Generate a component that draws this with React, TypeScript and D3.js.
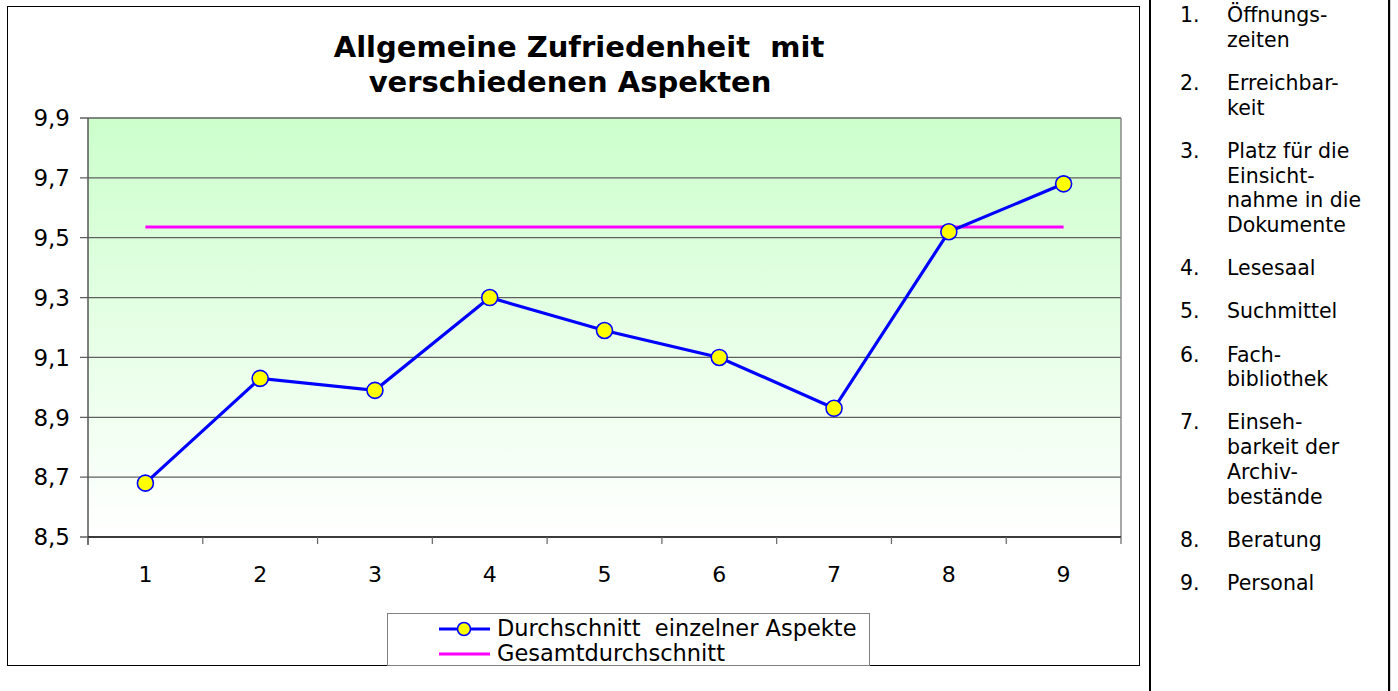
import React, {useEffect} from 'react';
import * as d3 from 'd3';

const categories = ['1', '2', '3', '4', '5', '6', '7', '8', '9'];
const aspectValues = [8.68, 9.03, 8.99, 9.30, 9.19, 9.10, 8.93, 9.52, 9.68];
const overallAverage = 9.536;
const yTicks = [8.5, 8.7, 8.9, 9.1, 9.3, 9.5, 9.7, 9.9];
const titleLines = ['Allgemeine Zufriedenheit  mit', 'verschiedenen Aspekten'];
const seriesNames = ['Durchschnitt  einzelner Aspekte', 'Gesamtdurchschnitt'];
const aspectLabels = [
  ['Öffnungs-', 'zeiten'],
  ['Erreichbar-', 'keit'],
  ['Platz für die', 'Einsicht-', 'nahme in die', 'Dokumente'],
  ['Lesesaal'],
  ['Suchmittel'],
  ['Fach-', 'bibliothek'],
  ['Einseh-', 'barkeit der', 'Archiv-', 'bestände'],
  ['Beratung'],
  ['Personal'],
];

const FONT = 'Verdana, "DejaVu Sans", sans-serif';

export default function App() {
  useEffect(() => {
    document.body.style.margin = '0';
    document.documentElement.style.overflow = 'hidden';
  }, []);

  const plot = {left: 88, right: 1121, top: 118, bottom: 537};

  const x = d3.scaleBand().domain(categories).range([plot.left, plot.right]).padding(0);
  const y = d3.scaleLinear().domain([8.5, 9.9]).range([plot.bottom, plot.top]);
  const cx = (c: string) => (x(c) as number) + x.bandwidth() / 2;

  const line = d3.line<number>()
    .x((d, i) => cx(categories[i]))
    .y(d => y(d));

  // x tick positions at the band boundaries
  const boundaries = categories.map(c => x(c) as number).concat([plot.right]);

  // right-hand list layout
  const lineH = 24.7, gap = 43.2;
  let base = 22;
  const listRows: {num: string, lines: string[], y: number}[] = [];
  aspectLabels.forEach((lines, i) => {
    listRows.push({num: (i + 1) + '.', lines: lines, y: base});
    base += (lines.length - 1) * lineH + gap;
  });

  return (
    <svg width={1398} height={691} style={{position: 'absolute', left: 0, top: 0, background: '#fff'}}
         fontFamily={FONT}>
      <defs>
        <linearGradient id="plotBg" x1="0" y1="0" x2="0" y2="1">
          <stop offset="0" stopColor="#ccffcc"/>
          <stop offset="1" stopColor="#ffffff"/>
        </linearGradient>
      </defs>

      {/* chart frame */}
      <rect x={7.5} y={6.5} width={1132} height={659} fill="#fff" stroke="#000" strokeWidth={1}/>

      {/* title */}
      <text x={579} y={57} textAnchor="middle" fontSize={29} fontWeight="bold" style={{whiteSpace: 'pre'}}>
        {titleLines[0]}
      </text>
      <text x={570} y={92} textAnchor="middle" fontSize={29} fontWeight="bold">
        {titleLines[1]}
      </text>

      {/* plot area */}
      <rect x={plot.left} y={plot.top} width={plot.right - plot.left} height={plot.bottom - plot.top}
            fill="url(#plotBg)"/>
      {yTicks.map(t => (
        <line key={'g' + t} x1={plot.left - 8} x2={plot.right} y1={y(t)} y2={y(t)}
              stroke="#5f5f5f" strokeWidth={1.3}/>
      ))}
      <line x1={plot.right} x2={plot.right} y1={plot.top} y2={plot.bottom} stroke="#8a8a8a" strokeWidth={1.5}/>
      <line x1={plot.left} x2={plot.left} y1={plot.top} y2={plot.bottom + 8} stroke="#555" strokeWidth={1.5}/>
      <line x1={plot.left} x2={plot.right} y1={plot.bottom} y2={plot.bottom} stroke="#222" strokeWidth={1.5}/>
      {boundaries.map((b, i) => (
        <line key={'t' + i} x1={b} x2={b} y1={plot.bottom} y2={plot.bottom + 7} stroke="#666" strokeWidth={1.2}/>
      ))}

      {/* y labels */}
      {yTicks.map(t => (
        <text key={'yl' + t} x={70} y={y(t)} dy="0.36em" textAnchor="end" fontSize={23}>
          {d3.format('.1f')(t).replace('.', ',')}
        </text>
      ))}
      {/* x labels */}
      {categories.map(c => (
        <text key={'xl' + c} x={cx(c)} y={582} textAnchor="middle" fontSize={22}>{c}</text>
      ))}

      {/* overall average */}
      <line x1={cx(categories[0])} x2={cx(categories[categories.length - 1])}
            y1={y(overallAverage)} y2={y(overallAverage)} stroke="#ff00ff" strokeWidth={3}/>

      {/* aspects series */}
      <path d={line(aspectValues) as string} fill="none" stroke="#0000ff" strokeWidth={3.2}/>
      {aspectValues.map((v, i) => (
        <circle key={'p' + i} cx={cx(categories[i])} cy={y(v)} r={8} fill="#ffff00" stroke="#0000ff" strokeWidth={1.6}/>
      ))}

      {/* legend */}
      <rect x={387.5} y={613.5} width={482} height={52} fill="#fff" stroke="#808080" strokeWidth={1}/>
      <line x1={439} x2={490} y1={629} y2={629} stroke="#0000ff" strokeWidth={3}/>
      <circle cx={464} cy={629} r={6.5} fill="#ffff00" stroke="#0000ff" strokeWidth={1.6}/>
      <line x1={439} x2={490} y1={654} y2={654} stroke="#ff00ff" strokeWidth={3}/>
      <text x={497} y={636} fontSize={22.5} style={{whiteSpace: 'pre'}}>{seriesNames[0]}</text>
      <text x={497} y={661} fontSize={22.5}>{seriesNames[1]}</text>

      {/* right-hand list of aspects */}
      <rect x={1149} y={0} width={2} height={691} fill="#000"/>
      <rect x={1388} y={0} width={2.2} height={691} fill="#000"/>
      {listRows.map(r => (
        <g key={r.num}>
          <text x={1180} y={r.y} fontSize={20.5}>{r.num}</text>
          {r.lines.map((l, j) => (
            <text key={j} x={1227} y={r.y + j * lineH} fontSize={20.5}>{l}</text>
          ))}
        </g>
      ))}
    </svg>
  );
}
